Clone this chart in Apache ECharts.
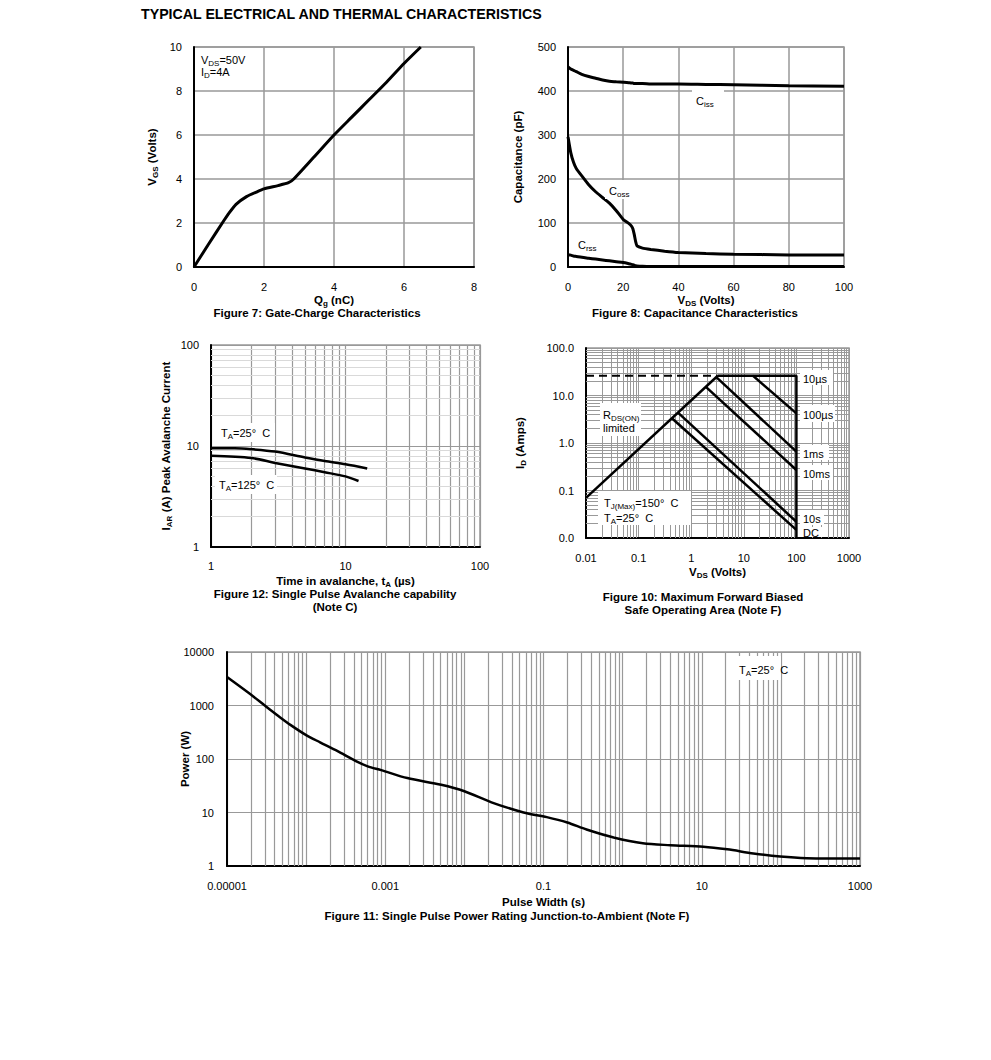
<!DOCTYPE html>
<html><head><meta charset="utf-8">
<script src="https://cdn.jsdelivr.net/npm/echarts@6/dist/echarts.min.js"></script>
<style>html,body{margin:0;padding:0;background:#fff}#c{width:991px;height:1060px}</style>
</head><body><div id="c"></div>
<script>
// ---------- Figure 7: Gate charge ----------
const fig7Qg  = [0, 0.4, 0.85, 1.0, 1.2, 1.5, 1.8, 2.0, 2.4, 2.7, 2.85, 3.4, 4.0, 4.5, 5.0, 5.5, 6.0, 6.48];
const fig7Vgs = [0, 1.0, 2.1, 2.45, 2.85, 3.2, 3.42, 3.55, 3.7, 3.83, 4.0, 4.95, 6.0, 6.8, 7.6, 8.4, 9.25, 10];
// ---------- Figure 8: Capacitance ----------
const fig8Vds  = [0, 1, 2, 3, 5, 7.5, 10, 12.5, 15, 17.5, 20, 22, 23, 23.5, 24, 24.5, 25, 27, 30, 35, 40, 50, 60, 80, 100];
const fig8Ciss = [455, 450, 447, 444, 438, 433, 429, 425, 422, 421, 420, 419, 418, 418, 417, 417, 417, 417, 416, 416, 416, 415, 414, 412, 411];
const fig8Coss = [296, 260, 238, 224, 207, 187, 171, 158, 145, 128, 108, 99, 93, 87, 74, 58, 48, 43, 40, 36, 33, 30.5, 29, 27.5, 27];
const fig8Crss = [28, 27, 25, 24, 22, 20, 18, 16, 14, 12, 10, 7.5, 6, 5, 4, 3, 2.5, 1.8, 1.3, 1.1, 1, 1, 1, 1, 1];
// ---------- Figure 12: Avalanche ----------
const fig12T25x  = [1, 1.5, 2, 3, 5, 7, 10, 14.5];
const fig12T25y  = [9.5, 9.5, 9.3, 8.8, 7.7, 7.1, 6.6, 6.0];
const fig12T125x = [1, 2, 3, 5, 7, 10, 12.5];
const fig12T125y = [8.0, 7.6, 6.8, 6.0, 5.5, 5.0, 4.5];
// ---------- Figure 10: SOA (each boundary: V list, I list) ----------
const soaDashV = [0.01, 3.2],  soaDashI = [26, 26];
const soaRdsV  = [0.01, 3.2],  soaRdsI  = [0.07, 26];
const soaTopV  = [3.2, 100, 100], soaTopI = [26, 26, 0.01];
const soa100usV = [15, 100],   soa100usI = [26, 4.2];
const soa1msV   = [3.0, 100],  soa1msI   = [24.3, 0.66];
const soa10msV  = [1.9, 100],  soa10msI  = [15.2, 0.27];
const soa10sV   = [0.56, 100], soa10sI   = [4.35, 0.022];
const soaDcV    = [0.43, 100], soaDcI    = [3.32, 0.0148];
const fig10XTicks = ['0.01', '0.1', '1', '10', '100', '1000'];
const fig10YTicks = ['0.0', '0.1', '1.0', '10.0', '100.0'];
// ---------- Figure 11: Single pulse power ----------
const fig11T = [1e-5, 2e-5, 3e-5, 4.5e-5, 6.4e-5, 1e-4, 1.5e-4, 2.5e-4, 4.2e-4, 6e-4, 8.9e-4, 1.9e-3, 5.1e-3, 0.01, 0.022, 0.056, 0.11, 0.2, 0.35, 0.77, 1.8, 4, 10.5, 21, 45, 98, 213, 1000];
const fig11P = [3400, 1600, 1000, 630, 430, 280, 205, 140, 92, 73, 62, 44, 33, 25, 15.5, 10, 8.2, 6.5, 4.8, 3.4, 2.65, 2.45, 2.3, 2.05, 1.72, 1.5, 1.4, 1.38];
const fig11XTicks = ['0.00001', '', '0.001', '', '0.1', '', '10', '', '1000'];
const fig11YTicks = ['1', '10', '100', '1000', '10000'];

const FONT = '"Liberation Sans", Arial, Helvetica, sans-serif';
const RICH = {
  n:  {fontSize: 11, lineHeight: 14, fontFamily: FONT, color: '#000'},
  s:  {fontSize: 8, lineHeight: 8, verticalAlign: 'bottom', fontFamily: FONT, color: '#000'},
  b:  {fontSize: 11.5, lineHeight: 14, fontWeight: 'bold', fontFamily: FONT, color: '#000'},
  bs: {fontSize: 8, lineHeight: 8, verticalAlign: 'bottom', fontWeight: 'bold', fontFamily: FONT, color: '#000'}
};
const zip = (a, b) => a.map((v, i) => [v, b[i]]);
const expIdx = (v, off) => Math.round(Math.log10(v)) + off;
function minors(e0, e1) { const o = []; for (let e = e0; e < e1; e++) for (let m = 2; m <= 9; m++) o.push(+(m * Math.pow(10, e)).toPrecision(3)); return o; }
function gridLines(idx, xs, ys, xr, yr, color, width) {
  const data = [];
  xs.forEach(v => data.push({coords: [[v, yr[0]], [v, yr[1]]]}));
  ys.forEach(v => data.push({coords: [[xr[0], v], [xr[1], v]]}));
  return {type: 'lines', coordinateSystem: 'cartesian2d', xAxisIndex: idx, yAxisIndex: idx, silent: true, z: 1,
          lineStyle: {color: color, width: width, opacity: 1}, data: data};
}
const axisLineBlack = {show: true, onZero: false, lineStyle: {color: '#000', width: 2}};
const lbl = (margin, extra) => Object.assign({fontSize: 11, color: '#000', fontFamily: FONT, margin: margin}, extra || {});
const split = (c, w) => ({show: true, lineStyle: {color: c, width: w}});
const nameStyle = {fontSize: 11.5, fontWeight: 'bold', fontFamily: FONT, color: '#000', rich: RICH};
function curve(idx, data, width, smooth, extra) {
  return Object.assign({type: 'line', xAxisIndex: idx, yAxisIndex: idx, data: data, showSymbol: false, symbol: 'none',
    smooth: smooth, z: 3, silent: true, lineStyle: {color: '#000', width: width}}, extra || {});
}
function txt(x, y, text, opt) {
  opt = opt || {};
  return {type: 'text', x: x, y: y, z: opt.z || 50, silent: true, style: {text: text, rich: RICH,
    fontSize: opt.size || 11, fontWeight: opt.bold ? 'bold' : 'normal', fontFamily: FONT, fill: '#000',
    align: opt.align || 'left', verticalAlign: 'middle', textAlign: opt.align || 'left', textVerticalAlign: 'middle'}};
}
function box(x, y, w, h) { return {type: 'rect', z: 40, silent: true, shape: {x: x, y: y, width: w, height: h}, style: {fill: '#fff'}}; }
const nm = (name, gap, rot) => ({name: name, nameLocation: 'middle', nameGap: gap, nameRotate: rot || 0, nameMoveOverlap: false, nameTextStyle: nameStyle});

const grids = [
  {left: 194, top: 47, width: 280, height: 220},
  {left: 568, top: 47, width: 276, height: 220},
  {left: 211, top: 345, width: 269, height: 202},
  {left: 586, top: 348, width: 263, height: 190},
  {left: 227, top: 652, width: 633, height: 214}
].map(g => Object.assign({show: true, borderColor: '#999', borderWidth: 1.5, backgroundColor: 'transparent'}, g));

const option = {
  animation: false,
  grid: grids,
  xAxis: [
    Object.assign({gridIndex: 0, type: 'value', min: 0, max: 8, interval: 2, axisLine: axisLineBlack, axisTick: {show: false},
     axisLabel: lbl(14), splitLine: split('#999', 1.5)}, nm('{b|Q}{bs|g}{b| (nC)}', 26)),
    Object.assign({gridIndex: 1, type: 'value', min: 0, max: 100, interval: 20, axisLine: axisLineBlack, axisTick: {show: false},
     axisLabel: lbl(14), splitLine: split('#999', 1.5)}, nm('{b|V}{bs|DS}{b| (Volts)}', 26)),
    Object.assign({gridIndex: 2, type: 'log', logBase: 10, min: 1, max: 100, axisLine: axisLineBlack, axisTick: {show: false},
     axisLabel: lbl(13), splitLine: split('#999', 1.2)}, nm('{b|Time in avalanche, t}{bs|A}{b| (µs)}', 27)),
    Object.assign({gridIndex: 3, type: 'log', logBase: 10, min: 0.01, max: 1000, axisLine: axisLineBlack, axisTick: {show: false},
     axisLabel: lbl(14, {formatter: v => fig10XTicks[expIdx(v, 2)] || ''}), splitLine: split('#999', 1)}, nm('{b|V}{bs|DS}{b| (Volts)}', 27)),
    Object.assign({gridIndex: 4, type: 'log', logBase: 10, min: 1e-5, max: 1000, interval: 1, axisLine: axisLineBlack, axisTick: {show: false},
     axisLabel: lbl(14, {formatter: v => fig11XTicks[expIdx(v, 5)] || ''}), splitLine: split('#999', 1.2)}, nm('{b|Pulse Width (s)}', 29))
  ],
  yAxis: [
    Object.assign({gridIndex: 0, type: 'value', min: 0, max: 10, interval: 2, axisLine: axisLineBlack, axisTick: {show: false},
     axisLabel: lbl(12), splitLine: split('#999', 1.5)}, nm('{b|V}{bs|GS}{b| (Volts)}', 35, 90)),
    Object.assign({gridIndex: 1, type: 'value', min: 0, max: 500, interval: 100, axisLine: axisLineBlack, axisTick: {show: false},
     axisLabel: lbl(12), splitLine: split('#999', 1.5)}, nm('{b|Capacitance (pF)}', 43, 90)),
    Object.assign({gridIndex: 2, type: 'log', logBase: 10, min: 1, max: 100, axisLine: axisLineBlack, axisTick: {show: false},
     axisLabel: lbl(12), splitLine: split('#999', 1.2)}, nm('{b|I}{bs|AR}{b| (A) Peak Avalanche Current}', 38, 90)),
    Object.assign({gridIndex: 3, type: 'log', logBase: 10, min: 0.01, max: 100, axisLine: axisLineBlack, axisTick: {show: false},
     axisLabel: lbl(12, {formatter: v => fig10YTicks[expIdx(v, 2)] || ''}), splitLine: split('#999', 1)}, nm('{b|I}{bs|D}{b| (Amps)}', 59, 90)),
    Object.assign({gridIndex: 4, type: 'log', logBase: 10, min: 1, max: 10000, axisLine: axisLineBlack, axisTick: {show: false},
     axisLabel: lbl(13, {formatter: v => fig11YTicks[expIdx(v, 0)] || ''}), splitLine: split('#999', 1.2)}, nm('{b|Power (W)}', 35, 90))
  ],
  series: [
    curve(0, zip(fig7Qg, fig7Vgs), 3, 0.2),
    curve(1, zip(fig8Vds, fig8Ciss), 3, 0.3),
    curve(1, zip(fig8Vds, fig8Coss), 3, 0.15),
    curve(1, zip(fig8Vds, fig8Crss), 3, 0.3),
    gridLines(2, minors(0, 2), [], [1, 100], [1, 100], '#999', 1.2),
    gridLines(2, [], minors(0, 2), [1, 100], [1, 100], '#d9d9d9', 1),
    curve(2, zip(fig12T25x, fig12T25y), 2.5, 0.3),
    curve(2, zip(fig12T125x, fig12T125y), 2.5, 0.3),
    gridLines(3, minors(-2, 3), minors(-2, 2), [0.01, 1000], [0.01, 100], '#999', 1),
    curve(3, zip(soaDashV, soaDashI), 2, false, {lineStyle: {color: '#000', width: 2, type: [8, 5]}}),
    curve(3, zip(soaRdsV, soaRdsI), 2.5, false),
    curve(3, zip(soaTopV, soaTopI), 2.5, false),
    curve(3, zip(soa100usV, soa100usI), 2.5, false),
    curve(3, zip(soa1msV, soa1msI), 2.5, false),
    curve(3, zip(soa10msV, soa10msI), 2.5, false),
    curve(3, zip(soa10sV, soa10sI), 2.5, false),
    curve(3, zip(soaDcV, soaDcI), 2.5, false),
    gridLines(4, minors(-5, 3), [], [1e-5, 1000], [1, 10000], '#999', 1.2),
    curve(4, zip(fig11T, fig11P), 2.5, 0.3)
  ],
  graphic: [
    txt(141, 14, 'TYPICAL ELECTRICAL AND THERMAL CHARACTERISTICS', {bold: true, size: 14.2}),
    // Fig 7
    txt(201, 60, '{n|V}{s|DS}{n|=50V}'),
    txt(201, 72, '{n|I}{s|D}{n|=4A}'),
    txt(317, 313, 'Figure 7: Gate-Charge Characteristics', {bold: true, size: 11.5, align: 'center'}),
    // Fig 8
    box(692, 89, 32, 19), txt(696, 101, '{n|C}{s|iss}'),
    box(605, 180, 33, 19), txt(609, 191, '{n|C}{s|oss}'),
    box(575, 236, 27, 17), txt(578, 245, '{n|C}{s|rss}'),
    txt(695, 313, 'Figure 8: Capacitance Characteristics', {bold: true, size: 11.5, align: 'center'}),
    // Fig 12
    box(217, 423, 58, 19), txt(221, 433, '{n|T}{s|A}{n|=25°  C}'),
    box(215, 475, 62, 19), txt(219, 485, '{n|T}{s|A}{n|=125°  C}'),
    txt(335, 594, 'Figure 12: Single Pulse Avalanche capability', {bold: true, size: 11.5, align: 'center'}),
    txt(335, 607, '(Note C)', {bold: true, size: 11.5, align: 'center'}),
    // Fig 10
    box(800, 370, 33, 15), txt(803, 379, '{n|10µs}'),
    box(800, 405, 35, 17), txt(803, 415, '{n|100µs}'),
    box(800, 445, 29, 15), txt(803, 454, '{n|1ms}'),
    box(800, 465, 33, 15), txt(803, 474, '{n|10ms}'),
    box(800, 510, 24, 15), txt(803, 519, '{n|10s}'),
    box(800, 527, 22, 10), txt(803, 533, '{n|DC}'),
    box(600, 403, 41, 33), txt(603, 415, '{n|R}{s|DS(ON)}'), txt(603, 428, '{n|limited}'),
    box(598, 491, 93, 34), txt(604, 503, '{n|T}{s|J(Max)}{n|=150°  C}'), txt(604, 518, '{n|T}{s|A}{n|=25°  C}'),
    txt(703, 597, 'Figure 10: Maximum Forward Biased', {bold: true, size: 11.5, align: 'center'}),
    txt(703, 610, 'Safe Operating Area (Note F)', {bold: true, size: 11.5, align: 'center'}),
    // Fig 11
    box(736, 656, 45, 24), txt(739, 670, '{n|T}{s|A}{n|=25°  C}'),
    txt(507, 916, 'Figure 11: Single Pulse Power Rating Junction-to-Ambient (Note F)', {bold: true, size: 11.5, align: 'center'})
  ]
};
const chart = echarts.init(document.getElementById('c'), null, {renderer: 'svg', width: 991, height: 1060});
chart.setOption(option);
</script>
</body></html>
